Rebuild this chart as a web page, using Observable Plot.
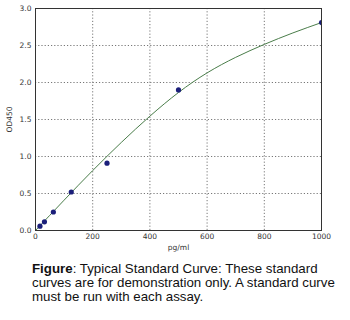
<!DOCTYPE html>
<html>
<head>
<meta charset="utf-8">
<script src="https://cdn.jsdelivr.net/npm/d3@7"></script>
<script src="https://cdn.jsdelivr.net/npm/@observablehq/plot@0.6"></script>
<style>
  html, body { margin: 0; padding: 0; background: #fff; }
  #chart svg { display: block; }
  #caption {
    margin: 7px 0 0 32px;
    font-family: "Liberation Sans", Arial, sans-serif;
    font-size: 13.3px;
    line-height: 14px;
    color: #111;
    white-space: nowrap;
  }
</style>
</head>
<body>
<div id="chart"></div>
<div id="caption"><b>Figure</b>: Typical Standard Curve: These standard<br>curves are for demonstration only. A standard curve<br>must be run with each assay.</div>
<script>
const concentrations = [15.6, 31.25, 62.5, 125, 250, 500, 1000];
const odValues = [0.058, 0.117, 0.25, 0.52, 0.91, 1.90, 2.81];
const curveX = [0, 100, 200, 300, 400, 500, 600, 700, 800, 900, 1000];
const curveY = [0, 0.41, 0.81, 1.19, 1.545, 1.865, 2.13, 2.34, 2.515, 2.67, 2.81];
const xTicks = [0, 200, 400, 600, 800, 1000];
const yTicks = [0, 0.5, 1.0, 1.5, 2.0, 2.5, 3.0];

const points = concentrations.map((x, i) => ({x, y: odValues[i]}));
const curve = curveX.map((x, i) => ({x, y: curveY[i]}));

const chart = Plot.plot({
  width: 350,
  height: 255,
  marginLeft: 35,
  marginRight: 29,
  marginTop: 8,
  marginBottom: 25,
  style: {fontFamily: "'DejaVu Sans', sans-serif", fontSize: "7.5px", color: "#333"},
  x: {domain: [0, 1000]},
  y: {domain: [0, 3]},
  marks: [
    Plot.gridX(xTicks, {stroke: "#777", strokeOpacity: 1, strokeDasharray: "1.2,2"}),
    Plot.gridY(yTicks, {stroke: "#777", strokeOpacity: 1, strokeDasharray: "1.2,2"}),
    Plot.axisX(xTicks, {tickSize: 0, tickPadding: 3, tickFormat: d3.format("d"), label: "pg/ml", labelAnchor: "center", labelArrow: "none", labelOffset: 19}),
    Plot.axisY(yTicks, {tickSize: 0, tickPadding: 4, tickFormat: d3.format(".1f"), label: "OD450", labelAnchor: "center", labelArrow: "none", labelOffset: 29}),
    Plot.line(curve, {x: "x", y: "y", curve: "natural", stroke: "#4a7d4a", strokeWidth: 1}),
    Plot.dot(points, {x: "x", y: "y", r: 2.6, fill: "#1b1f7a", stroke: "none", clip: "frame"}),
    Plot.frame({stroke: "#333", strokeWidth: 1})
  ]
});
document.getElementById("chart").appendChild(chart);
</script>
</body>
</html>
